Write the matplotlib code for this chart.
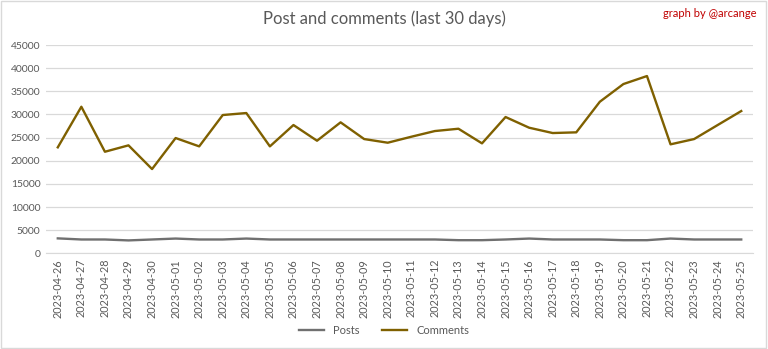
import matplotlib
matplotlib.use('Agg')
import matplotlib.pyplot as plt

dates = ['2023-04-26', '2023-04-27', '2023-04-28', '2023-04-29', '2023-04-30',
         '2023-05-01', '2023-05-02', '2023-05-03', '2023-05-04', '2023-05-05',
         '2023-05-06', '2023-05-07', '2023-05-08', '2023-05-09', '2023-05-10',
         '2023-05-11', '2023-05-12', '2023-05-13', '2023-05-14', '2023-05-15',
         '2023-05-16', '2023-05-17', '2023-05-18', '2023-05-19', '2023-05-20',
         '2023-05-21', '2023-05-22', '2023-05-23', '2023-05-24', '2023-05-25']

posts = [3240, 3000, 3000, 2800, 3000, 3200, 3000, 3000, 3200, 3000,
         3000, 3000, 3000, 3000, 3000, 3000, 3000, 2850, 2850, 3000,
         3200, 3000, 3000, 3000, 2850, 2850, 3200, 3000, 3000, 3000]

comments = [22900, 31670, 21950, 23330, 18210, 24910, 23110, 29880, 30310, 23110,
            27720, 24330, 28300, 24690, 23900, 25190, 26420, 26920, 23760, 29450,
            27140, 25990, 26140, 32750, 36570, 38300, 23550, 24690, 27720, 30740]

yticks = list(range(0, 45001, 5000))

plt.rcParams['font.family'] = ['Lato', 'DejaVu Sans']

fig = plt.figure(figsize=(7.68, 3.49), dpi=100)
ax = fig.add_axes([0.0599, 0.274, 0.9206, 0.597])

x = list(range(len(dates)))
ax.plot(x, posts, color='#707070', linewidth=1.7, label='Posts')
ax.plot(x, comments, color='#7f6000', linewidth=1.7, label='Comments')

ax.set_xlim(-0.5, len(dates) - 0.5)
ax.set_ylim(0, 45000)
ax.set_yticks(yticks)
ax.set_yticklabels([str(v) for v in yticks], fontsize=7.5, color='#595959')
ax.set_xticks(x)
ax.set_xticklabels(dates, rotation=90, fontsize=7.8, color='#595959')
ax.tick_params(length=0, pad=4)
ax.grid(axis='y', color='#d9d9d9', linewidth=0.9)
ax.set_axisbelow(True)
for side in ['top', 'right', 'left']:
    ax.spines[side].set_visible(False)
ax.spines['bottom'].set_color('#d9d9d9')

fig.text(0.5, 0.945, 'Post and comments (last 30 days)', ha='center', va='center',
         fontsize=12, color='#595959')
fig.text(0.985, 0.962, 'graph by @arcange', ha='right', va='center',
         fontsize=8, color='#c00000')

fig.legend(loc='center', bbox_to_anchor=(0.5, 0.054), ncol=2, frameon=False,
           fontsize=8, labelcolor='#595959', handlelength=2.3, columnspacing=2)

fig.patches.append(plt.Rectangle((0.001, 0.002), 0.997, 0.995, transform=fig.transFigure,
                                 fill=False, edgecolor='#d9d9d9', linewidth=1))

fig.savefig('out.png', dpi=100)
